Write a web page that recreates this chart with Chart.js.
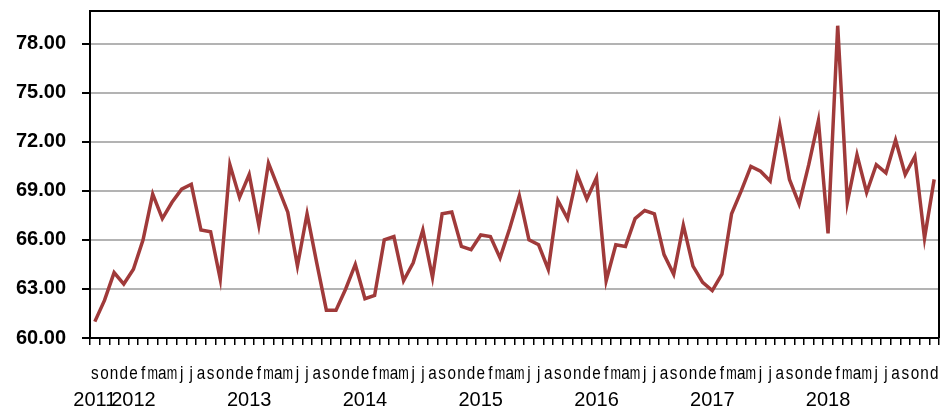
<!DOCTYPE html>
<html>
<head>
<meta charset="utf-8">
<script src="https://cdn.jsdelivr.net/npm/chart.js@4"></script>
<style>
    html, body { margin: 0; padding: 0; background: #fff; }
    #wrap { width: 951px; height: 408px; }
</style>
</head>
<body>
<div id="wrap"><canvas id="indexChart"></canvas></div>
<script>
// monthly series, Sep 2011 - Dec 2018
const months = [
    's','o','n','d',
    'e','f','m','a','m','j','j','a','s','o','n','d',
    'e','f','m','a','m','j','j','a','s','o','n','d',
    'e','f','m','a','m','j','j','a','s','o','n','d',
    'e','f','m','a','m','j','j','a','s','o','n','d',
    'e','f','m','a','m','j','j','a','s','o','n','d',
    'e','f','m','a','m','j','j','a','s','o','n','d',
    'e','f','m','a','m','j','j','a','s','o','n','d'
];

// year label placed under the first month of each year
const years = [
    '2011','','','',
    '2012','','','','','','','','','','','',
    '2013','','','','','','','','','','','',
    '2014','','','','','','','','','','','',
    '2015','','','','','','','','','','','',
    '2016','','','','','','','','','','','',
    '2017','','','','','','','','','','','',
    '2018','','','','','','','','','','',''
];

const values = [
    61.0, 62.3, 64.0, 63.3,
    64.2, 66.0, 68.8, 67.3, 68.3, 69.1, 69.4, 66.6, 66.5, 63.6, 70.6, 68.6,
    70.0, 66.9, 70.7, 69.2, 67.7, 64.4, 67.6, 64.6, 61.7, 61.7, 63.0, 64.5,
    62.4, 62.6, 66.0, 66.2, 63.5, 64.6, 66.6, 63.7, 67.6, 67.7, 65.6, 65.4,
    66.3, 66.2, 64.9, 66.7, 68.7, 66.0, 65.7, 64.2, 68.4, 67.3, 70.0, 68.5,
    69.8, 63.5, 65.7, 65.6, 67.3, 67.8, 67.6, 65.1, 63.9, 66.9, 64.4, 63.4,
    62.9, 63.9, 67.6, 69.0, 70.5, 70.2, 69.6, 73.0, 69.7, 68.2, 70.6, 73.3,
    66.4, 79.1, 68.3, 71.2, 68.9, 70.6, 70.1, 72.1, 70.0, 71.1, 66.1, 69.7
];

// top + right frame of the plot box, and the condensed month letters
const frameBox = {
    id: 'frameBox',
    afterDraw(chart) {
        const a = chart.chartArea;
        const ctx = chart.ctx;
        ctx.save();
        ctx.strokeStyle = '#000';
        ctx.lineWidth = 2;
        ctx.beginPath();
        ctx.moveTo(a.left, a.top);
        ctx.lineTo(a.right, a.top);
        ctx.lineTo(a.right, a.bottom);
        ctx.stroke();

        const xs = chart.scales.x;
        ctx.fillStyle = '#000';
        ctx.font = "18px 'Liberation Sans', Arial";
        ctx.textAlign = 'center';
        ctx.textBaseline = 'alphabetic';
        months.forEach((m, i) => {
            const px = xs.getPixelForTick(i);
            ctx.save();
            ctx.translate(px, a.bottom + 41);
            ctx.scale(m === 'm' ? 0.7 : 0.85, 1);
            ctx.fillText(m, 0, 0);
            ctx.restore();
        });
        ctx.restore();
    }
};

const ctx = document.getElementById('indexChart').getContext('2d');

new Chart(ctx, {
    type: 'line',
    data: {
        labels: months,
        datasets: [{
            data: values,
            borderColor: '#a03a3a',
            borderWidth: 3.5,
            pointRadius: 0,
            tension: 0,
            fill: false
        }]
    },
    options: {
        responsive: true,
        maintainAspectRatio: false,
        animation: false,
        layout: { padding: { top: 11, right: 12, left: 0, bottom: 0 } },
        plugins: {
            legend: { display: false },
            tooltip: { enabled: false }
        },
        scales: {
            x: {
                type: 'category',
                position: 'bottom',
                offset: true,
                grid: {
                    offset: true,
                    drawOnChartArea: false,
                    color: '#000',
                    tickColor: '#000',
                    tickLength: 7,
                    lineWidth: 1.5
                },
                border: { display: true, color: '#000', width: 2 },
                ticks: { display: false, autoSkip: false },
                afterFit(scale) {
                    scale.height = 45;
                    scale.paddingLeft = 0;
                    scale.paddingRight = 0;
                }
            },
            x2: {
                type: 'category',
                position: 'bottom',
                labels: years,
                offset: true,
                grid: { display: false, drawTicks: false },
                border: { display: false },
                ticks: {
                    autoSkip: false,
                    maxRotation: 0,
                    minRotation: 0,
                    padding: 5,
                    color: '#000',
                    font: { family: "'Liberation Sans', Arial", size: 20 }
                },
                afterFit(scale) {
                    scale.height = 25;
                    scale.paddingLeft = 0;
                    scale.paddingRight = 0;
                }
            },
            y: {
                min: 60,
                max: 80,
                ticks: {
                    stepSize: 3,
                    padding: 16,
                    color: '#000',
                    font: { family: "'Liberation Sans', Arial", size: 20, weight: 'bold' },
                    callback: v => v.toFixed(2)
                },
                afterBuildTicks(scale) {
                    scale.ticks = scale.ticks.filter(t => t.value <= 78);
                },
                grid: {
                    color: '#b3b3b3',
                    lineWidth: 2,
                    tickColor: '#000',
                    tickLength: 8
                },
                border: { display: true, color: '#000', width: 2 },
                afterFit(scale) {
                    scale.width = 90;
                    scale.paddingTop = 0;
                    scale.paddingBottom = 0;
                }
            }
        }
    },
    plugins: [frameBox]
});
</script>
</body>
</html>
